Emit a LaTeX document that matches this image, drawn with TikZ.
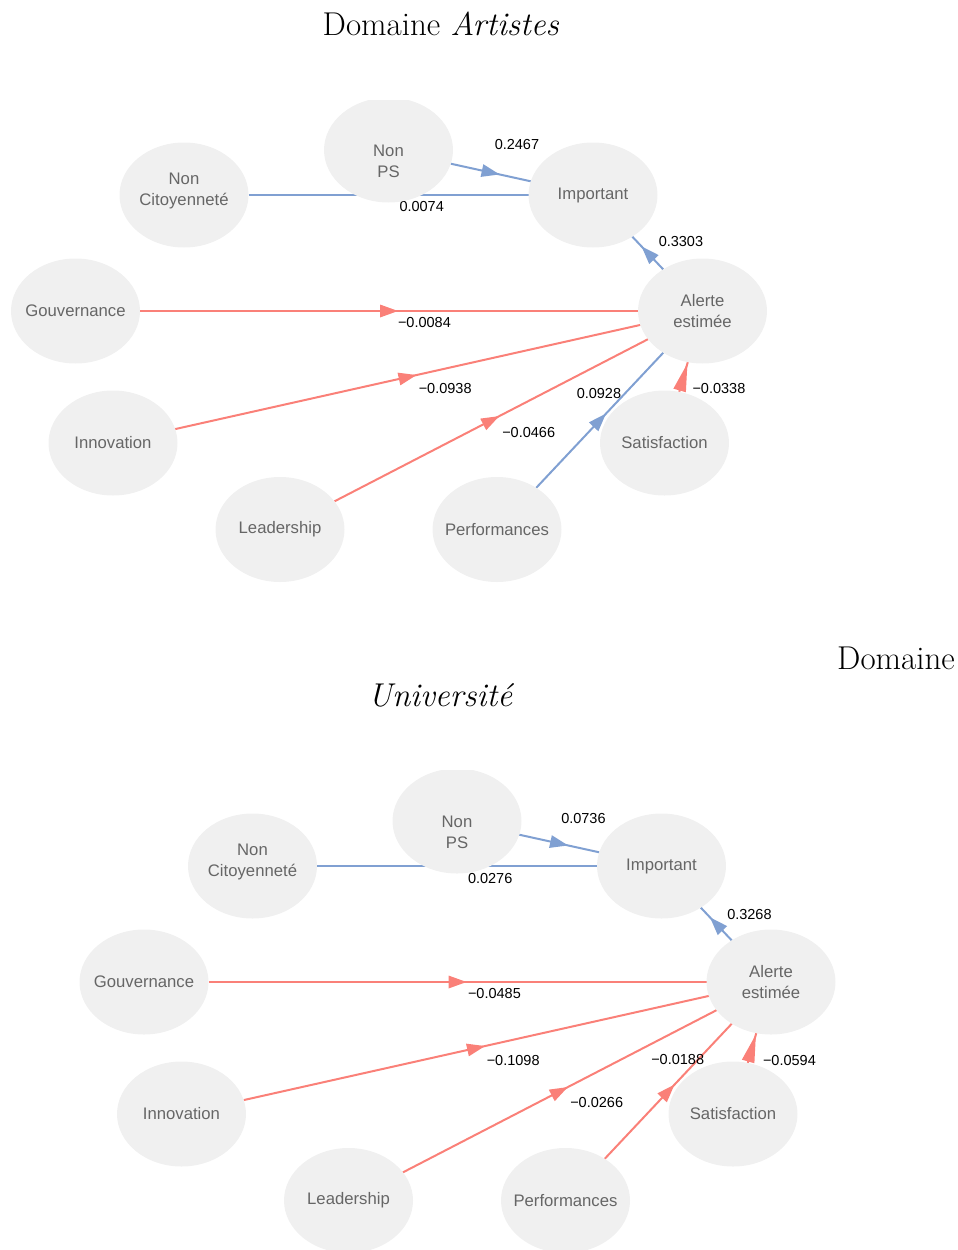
\documentclass[tikz,border=0pt]{standalone}
\usepackage{fontspec}
\setsansfont{Liberation Sans}
\usetikzlibrary{shapes.geometric,decorations.markings}
\pgfdeclarelayer{edges}
\pgfsetlayers{edges,main}
\definecolor{nodegray}{RGB}{240,240,240}
\definecolor{textgray}{RGB}{102,102,102}
\definecolor{edgeblue}{RGB}{128,160,210}
\definecolor{edgered}{RGB}{250,128,120}
% two-line node text, moved up or down inside its ellipse
\newcommand{\movedtext}[2]{\raisebox{#1}[\height][\depth]{\begin{tabular}{@{}c@{}}#2\end{tabular}}}
\tikzset{
  latent/.style={ellipse, fill=nodegray, minimum width=129pt, minimum height=105pt,
    inner xsep=-30pt, inner ysep=0pt, outer sep=0pt, align=center, text=textgray,
    font=\sffamily\fontsize{16.7}{20.5}\selectfont},
  coef/.style={anchor=west, inner sep=0pt, font=\sffamily\fontsize{14.5}{17}\selectfont},
  midtip/.style 2 args={postaction={decorate}, decoration={markings,
    mark=at position 0.5 with {\fill[#1] (#2,0pt) -- (-#2,6.5pt) -- (-#2,-6.5pt) -- cycle;}}},
  posedge/.style={draw=edgeblue, line width=2pt, midtip={edgeblue}{#1}},
  posedge/.default=9pt,
  negedge/.style={draw=edgered, line width=2pt, midtip={edgered}{#1}},
  negedge/.default=9pt,
  heading/.style={anchor=base, inner sep=0pt, font=\fontsize{33}{39}\selectfont}
}
\begin{document}
\begin{tikzpicture}[x=1pt, y=-1pt]
  \useasboundingbox (0,0) rectangle (958,1250);

  % Domaine Artistes
  \node[heading] (titleA) at (441,35) {Domaine \textit{Artistes}};
  \begin{scope}
    \clip (0,100) rectangle (958,620);
    \node[latent] (aNonCit) at (184,195) {\movedtext{4pt}{Non\\Citoyenneté}};
    \node[latent] (aNonPS) at (388.5,150) {\movedtext{-13pt}{Non\\PS}};
    \node[latent] (aImp) at (593,195) {Important};
    \node[latent] (aGouv) at (75.5,311) {Gouvernance};
    \node[latent] (aAlert) at (702.5,311) {Alerte\\estimée};
    \node[latent] (aInnov) at (113,443) {Innovation};
    \node[latent] (aSatis) at (664.5,443) {Satisfaction};
    \node[latent] (aLead) at (280,529.5) {Leadership};
    \node[latent] (aPerf) at (497,529.5) {Performances};
  \end{scope}
  \begin{pgfonlayer}{edges}
    \draw[posedge] (aNonPS) -- node[coef, xshift=3pt, yshift=27.5pt] {0.2467} (aImp);
    \draw[posedge] (aNonCit) -- node[coef, xshift=10pt, yshift=-12pt] {0.0074} (aImp);
    \draw[posedge] (aAlert) -- node[coef, xshift=10pt, yshift=11pt] {0.3303} (aImp);
    \draw[negedge] (aGouv) -- node[coef, xshift=8pt, yshift=-12pt] {−0.0084} (aAlert);
    \draw[negedge] (aInnov) -- node[coef, xshift=10pt, yshift=-12pt] {−0.0938} (aAlert);
    \draw[negedge] (aLead) -- node[coef, xshift=10pt, yshift=-12pt] {−0.0466} (aAlert);
    \draw[posedge] (aPerf) -- node[coef, xshift=-24pt, yshift=27pt] {0.0928} (aAlert);
    \draw[negedge=14pt] (aSatis) -- node[coef, xshift=8pt, yshift=-12pt] {−0.0338} (aAlert);
  \end{pgfonlayer}

  % Domaine Universite
  \node[heading, anchor=base east] (titleB) at (955,669) {Domaine};
  \node[heading] (titleC) at (441,706) {\textit{Université}};
  \begin{scope}[shift={(68.5,671)}]
    \clip (-68.5,99) rectangle (889.5,579);
    \node[latent] (uNonCit) at (184,195) {\movedtext{4pt}{Non\\Citoyenneté}};
    \node[latent] (uNonPS) at (388.5,150) {\movedtext{-13pt}{Non\\PS}};
    \node[latent] (uImp) at (593,195) {Important};
    \node[latent] (uGouv) at (75.5,311) {Gouvernance};
    \node[latent] (uAlert) at (702.5,311) {Alerte\\estimée};
    \node[latent] (uInnov) at (113,443) {Innovation};
    \node[latent] (uSatis) at (664.5,443) {Satisfaction};
    \node[latent] (uLead) at (280,529.5) {Leadership};
    \node[latent] (uPerf) at (497,529.5) {Performances};
  \end{scope}
  \begin{pgfonlayer}{edges}
    \draw[posedge] (uNonPS) -- node[coef, xshift=1pt, yshift=24.7pt] {0.0736} (uImp);
    \draw[posedge] (uNonCit) -- node[coef, xshift=10pt, yshift=-12pt] {0.0276} (uImp);
    \draw[posedge] (uAlert) -- node[coef, xshift=10pt, yshift=10pt] {0.3268} (uImp);
    \draw[negedge] (uGouv) -- node[coef, xshift=9.5pt, yshift=-11.5pt] {−0.0485} (uAlert);
    \draw[negedge] (uInnov) -- node[coef, xshift=9.5pt, yshift=-12pt] {−0.1098} (uAlert);
    \draw[negedge] (uLead) -- node[coef, xshift=9.5pt, yshift=-11.5pt] {−0.0266} (uAlert);
    \draw[negedge] (uPerf) -- node[coef, xshift=-18pt, yshift=31.5pt] {−0.0188} (uAlert);
    \draw[negedge=14pt] (uSatis) -- node[coef, xshift=10pt, yshift=-12pt] {−0.0594} (uAlert);
  \end{pgfonlayer}
\end{tikzpicture}
\end{document}
